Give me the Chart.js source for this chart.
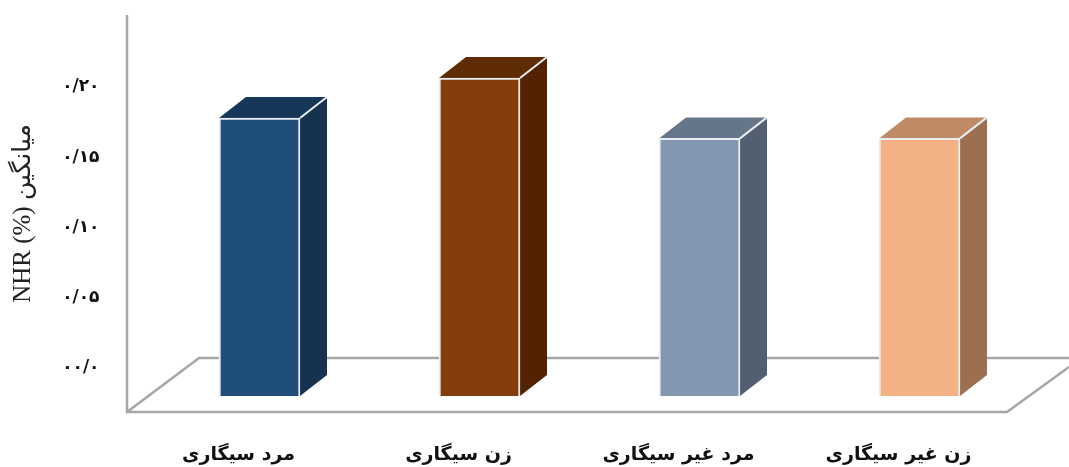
<!DOCTYPE html>
<html>
<head>
<meta charset="utf-8">
<title>NHR</title>
<script src="https://cdn.jsdelivr.net/npm/chart.js@4"></script>
<style>
  html, body { margin: 0; padding: 0; background: #fff; }
  canvas { display: block; }
</style>
</head>
<body>
<canvas id="chart" width="1069" height="467"></canvas>
<script>
// Chart data
const categories = ['مرد سیگاری', 'زن سیگاری', 'مرد غیر سیگاری', 'زن غیر سیگاری'];
const nhrValues = [0.1765, 0.205, 0.162, 0.162];
const tickValues = [0, 0.05, 0.10, 0.15, 0.20];
const tickLabels = ['۰۰/۰', '۰/۰۵', '۰/۱۰', '۰/۱۵', '۰/۲۰'];
const yTitle = 'NHR (%) میانگین';

// Colors per bar
const frontColors = ['#1f4e79', '#843c0c', '#8497b0', '#f4b183'];
const topColors = ['#17375a', '#5f2c05', '#667689', '#bf8b66'];
const sideColors = ['#15324f', '#532300', '#525f73', '#9b6f50'];
const AXIS_COLOR = '#a6a6a6';

// The bars stand on a floor drawn below the zero tick
const SCALE_MIN = -0.0327;
const SCALE_MAX = 0.2498;
const BAR_BASE = -0.0214;
const DEPTH_X = 27;
const DEPTH_Y = 21;

/**
 * Draws the walls and floor outline behind the bars
 */
const floorPlugin = {
    id: 'floor',
    beforeDatasetsDraw(chart) {
        const { ctx, chartArea: area } = chart;
        const left = area.left - 22.5;
        const bottom = area.bottom;
        const right = left + 880;
        const backY = bottom - 54;

        ctx.save();
        ctx.strokeStyle = AXIS_COLOR;
        ctx.lineWidth = 2.5;

        ctx.beginPath();
        ctx.moveTo(left, area.top);
        ctx.lineTo(left, bottom);
        ctx.lineTo(right, bottom);
        ctx.lineTo(chart.width, bottom - 45);
        ctx.moveTo(left, bottom);
        ctx.lineTo(left + 72, backY);
        ctx.lineTo(chart.width, backY);
        ctx.stroke();
        ctx.restore();
    }
};

/**
 * Draws the top and side faces of each bar from its element geometry
 */
const extrudePlugin = {
    id: 'extrude',
    beforeDatasetDraw(chart) {
        const { ctx } = chart;
        chart.getDatasetMeta(0).data.forEach((bar, i) => {
            const left = bar.x - bar.width / 2;
            const right = bar.x + bar.width / 2;
            const top = bar.y;
            const bottom = bar.base;

            ctx.save();
            ctx.strokeStyle = '#e8edf2';
            ctx.lineWidth = 2;

            // top face
            ctx.fillStyle = topColors[i];
            ctx.beginPath();
            ctx.moveTo(left, top);
            ctx.lineTo(left + DEPTH_X, top - DEPTH_Y);
            ctx.lineTo(right + DEPTH_X, top - DEPTH_Y);
            ctx.lineTo(right, top);
            ctx.closePath();
            ctx.fill();

            // side face
            ctx.fillStyle = sideColors[i];
            ctx.beginPath();
            ctx.moveTo(right, top);
            ctx.lineTo(right + DEPTH_X, top - DEPTH_Y);
            ctx.lineTo(right + DEPTH_X, bottom - DEPTH_Y);
            ctx.lineTo(right, bottom);
            ctx.closePath();
            ctx.fill();

            // light edge between top and side
            ctx.beginPath();
            ctx.moveTo(right, top);
            ctx.lineTo(right + DEPTH_X, top - DEPTH_Y);
            ctx.stroke();
            ctx.restore();
        });
    }
};

new Chart(document.getElementById('chart'), {
    type: 'bar',
    data: {
        labels: categories,
        datasets: [{
            data: nhrValues,
            base: BAR_BASE,
            backgroundColor: frontColors,
            borderColor: '#e8edf2',
            borderWidth: 2,
            barThickness: 81
        }]
    },
    options: {
        responsive: false,
        animation: false,
        layout: {
            padding: { top: 15, right: 39.5, bottom: 0, left: 0 }
        },
        plugins: {
            legend: { display: false },
            tooltip: { enabled: false }
        },
        scales: {
            x: {
                grid: { display: false },
                border: { display: false },
                afterFit(scale) {
                    scale.height = 55;
                    scale.paddingLeft = 0;
                    scale.paddingRight = 0;
                },
                ticks: {
                    color: '#111',
                    labelOffset: -21,
                    padding: 24,
                    maxRotation: 0,
                    font: { family: '"DejaVu Sans"', size: 19, weight: 'bold' }
                }
            },
            y: {
                min: SCALE_MIN,
                max: SCALE_MAX,
                grid: { display: false },
                border: { display: false },
                afterFit(scale) {
                    scale.width = 149.5;
                    scale.paddingTop = 0;
                    scale.paddingBottom = 0;
                },
                afterBuildTicks(scale) {
                    scale.ticks = tickValues.map(value => ({ value }));
                },
                ticks: {
                    color: '#111',
                    padding: 42,
                    labelOffset: 2,
                    callback: (value) => tickLabels[tickValues.indexOf(value)],
                    font: { family: '"DejaVu Sans"', size: 17, weight: 'bold' }
                },
                title: {
                    display: true,
                    text: yTitle,
                    color: '#222',
                    padding: { top: 8, bottom: 0 },
                    font: { family: '"Liberation Serif", "DejaVu Sans"', size: 25 }
                }
            }
        }
    },
    plugins: [floorPlugin, extrudePlugin]
});
</script>
</body>
</html>
